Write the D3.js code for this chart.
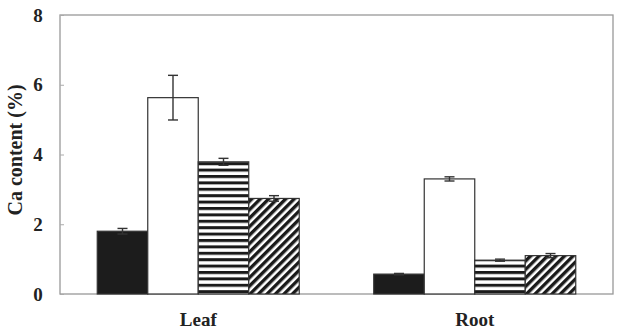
<!DOCTYPE html>
<html>
<head>
<meta charset="utf-8">
<script src="https://cdn.jsdelivr.net/npm/d3@7"></script>
<style>
  body { margin: 0; background: #fff; }
  text { font-family: "Liberation Serif", "DejaVu Serif", serif; font-weight: bold; fill: #222; }
</style>
</head>
<body>
<svg id="chart"></svg>
<script>
let d3 = window.d3

// data
let organs = ['Leaf', 'Root']
let treatments = ['solid', 'open', 'hstripe', 'diag']
let meanLeaf = [1.80, 5.63, 3.79, 2.74]
let errLeaf = [0.08, 0.64, 0.10, 0.08]
let meanRoot = [0.57, 3.30, 0.97, 1.10]
let errRoot = [0.02, 0.06, 0.03, 0.06]
let yTicks = [0, 2, 4, 6, 8]

let width = 619
let height = 330
let margin = { top: 15, right: 6, bottom: 36, left: 60 }
let innerW = width - margin.left - margin.right
let innerH = height - margin.top - margin.bottom

let rows = organs.map(function (o, i) {
  let means = i === 0 ? meanLeaf : meanRoot
  let errs = i === 0 ? errLeaf : errRoot
  return treatments.map(function (t, j) {
    return { organ: o, treat: t, value: means[j], err: errs[j] }
  })
})

let svg = d3.select('#chart')
  .attr('width', width)
  .attr('height', height)

let defs = svg.append('defs')
defs.append('pattern')
  .attr('id', 'hstripe')
  .attr('patternUnits', 'userSpaceOnUse')
  .attr('width', 8)
  .attr('height', 6.4)
  .call(function (p) {
    p.append('rect').attr('width', 8).attr('height', 6.4).attr('fill', '#fff')
    p.append('rect').attr('y', 0).attr('width', 8).attr('height', 3).attr('fill', '#1a1a1a')
  })
defs.append('pattern')
  .attr('id', 'diag')
  .attr('patternUnits', 'userSpaceOnUse')
  .attr('width', 6)
  .attr('height', 6)
  .attr('patternTransform', 'rotate(45)')
  .call(function (p) {
    p.append('rect').attr('width', 6).attr('height', 6).attr('fill', '#fff')
    p.append('rect').attr('width', 3.4).attr('height', 6).attr('fill', '#1a1a1a')
  })

let fills = { solid: '#1c1c1c', open: '#fff', hstripe: 'url(#hstripe)', diag: 'url(#diag)' }

let g = svg.append('g')
  .attr('transform', 'translate(' + margin.left + ',' + margin.top + ')')

let x0 = d3.scaleBand()
  .domain(organs)
  .range([0, innerW])

let bandPad = (x0.bandwidth() - 202) / 2
let x1 = d3.scaleBand()
  .domain(treatments)
  .range([bandPad, x0.bandwidth() - bandPad])

let y = d3.scaleLinear()
  .domain([0, 8])
  .range([innerH, 0])

// frame
g.append('rect')
  .attr('width', innerW)
  .attr('height', innerH)
  .attr('fill', 'none')
  .attr('stroke', '#999')
  .attr('stroke-width', 1.3)

// y axis, ticks pointing inwards
let yAxis = d3.axisLeft(y)
  .tickValues(yTicks)
  .tickSize(-4)
  .tickPadding(15)
  .tickFormat(d3.format('d'))
g.append('g')
  .attr('class', 'y axis')
  .call(yAxis)
  .call(function (a) {
    a.select('.domain').remove()
    a.selectAll('line').attr('stroke', '#aaa')
    a.selectAll('text')
      .attr('text-anchor', 'middle')
      .attr('x', -22)
      .style('font-size', '19px')
      .style('font-family', '"Liberation Serif", serif')
      .style('font-weight', 'bold')
      .attr('fill', '#222')
  })

g.append('text')
  .attr('transform', 'rotate(-90)')
  .attr('x', -(150 - margin.top))
  .attr('y', -38)
  .attr('text-anchor', 'middle')
  .style('font-size', '20px')
  .text('Ca content (%)')

// x labels
let xAxis = d3.axisBottom(x0).tickSize(0).tickPadding(19)
g.append('g')
  .attr('class', 'x axis')
  .attr('transform', 'translate(0,' + innerH + ')')
  .call(xAxis)
  .call(function (a) {
    a.select('.domain').remove()
    a.selectAll('text')
      .style('font-size', '19px')
      .style('font-family', '"Liberation Serif", serif')
      .style('font-weight', 'bold')
      .attr('fill', '#222')
  })

let groups = g.selectAll('.organ')
  .data(rows)
  .enter().append('g')
  .attr('class', 'organ')
  .attr('transform', function (d, i) { return 'translate(' + x0(organs[i]) + ',0)' })

groups.selectAll('rect.bar')
  .data(function (d) { return d })
  .enter().append('rect')
  .attr('class', 'bar')
  .attr('x', function (d) { return x1(d.treat) })
  .attr('y', function (d) { return y(d.value) })
  .attr('width', x1.bandwidth())
  .attr('height', function (d) { return innerH - y(d.value) })
  .attr('fill', function (d) { return fills[d.treat] })
  .attr('stroke', '#333')
  .attr('stroke-width', 1.2)

// error bars
let eb = groups.selectAll('g.err')
  .data(function (d) { return d })
  .enter().append('g')
  .attr('class', 'err')
  .attr('stroke', '#333')
  .attr('stroke-width', 1.4)
eb.append('line')
  .attr('x1', function (d) { return x1(d.treat) + x1.bandwidth() / 2 })
  .attr('x2', function (d) { return x1(d.treat) + x1.bandwidth() / 2 })
  .attr('y1', function (d) { return y(d.value + d.err) })
  .attr('y2', function (d) { return y(d.value - d.err) })
eb.selectAll('line.cap')
  .data(function (d) { return [d.value + d.err, d.value - d.err].map(function (v) { return { d: d, v: v } }) })
  .enter().append('line')
  .attr('class', 'cap')
  .attr('x1', function (c) { return x1(c.d.treat) + x1.bandwidth() / 2 - 5 })
  .attr('x2', function (c) { return x1(c.d.treat) + x1.bandwidth() / 2 + 5 })
  .attr('y1', function (c) { return y(c.v) })
  .attr('y2', function (c) { return y(c.v) })
</script>
</body>
</html>
